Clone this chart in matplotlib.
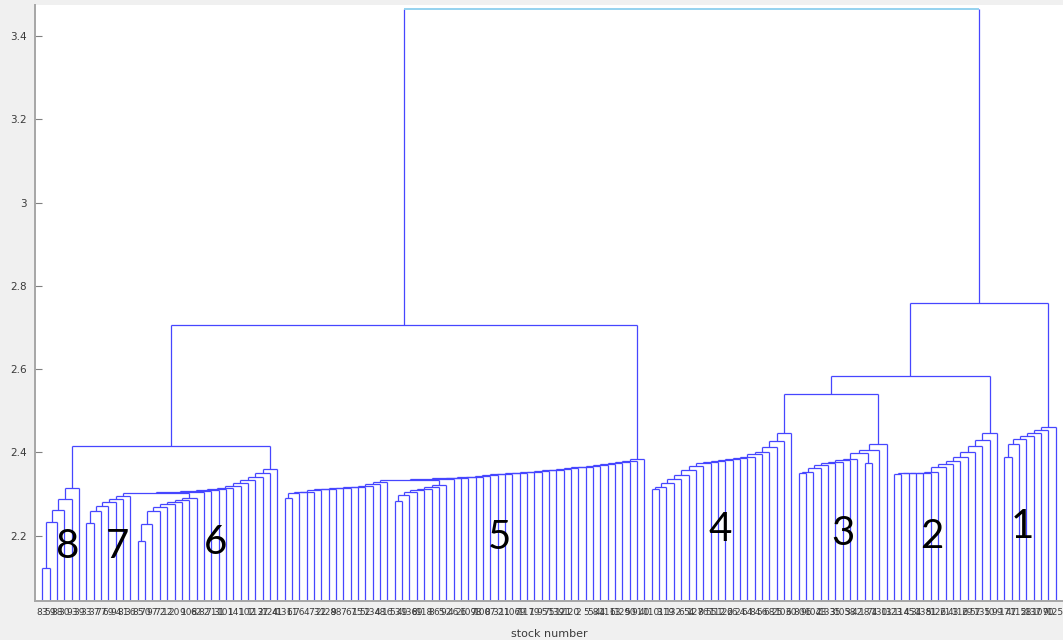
import matplotlib
matplotlib.use("Agg")
import matplotlib.pyplot as plt

# ---------------- data (merge heights) ----------------
c8_chain = [2.122, 2.232, 2.262, 2.288, 2.315]
c7_chain = [2.230, 2.259, 2.271, 2.281, 2.288, 2.295]
c6_left_chain = [2.188, 2.228, 2.259, 2.268, 2.275, 2.281, 2.286, 2.290]
c7_c6_join = 2.303
c6_right_tail = [2.306, 2.308, 2.310, 2.312, 2.315, 2.320, 2.326, 2.333, 2.340, 2.350, 2.360]
c8_c76_join = 2.415

c5_left_chain = [2.290, 2.302, 2.304, 2.306, 2.309, 2.311, 2.313, 2.314, 2.315, 2.316,
                 2.318, 2.320, 2.324, 2.328]
c5_right_chain = [2.284, 2.298, 2.305, 2.309, 2.313, 2.318, 2.322]
c5_join = 2.334
c5_tail = [2.336, 2.338, 2.339, 2.341, 2.342, 2.344, 2.345, 2.347, 2.348, 2.350,
           2.351, 2.352, 2.354, 2.355, 2.357, 2.358, 2.360, 2.362, 2.364, 2.366,
           2.368, 2.370, 2.372, 2.374, 2.376, 2.379, 2.384]
left_c5_join = 2.705

c4_chain = [2.312, 2.318, 2.326, 2.335, 2.345, 2.358, 2.368, 2.374, 2.377, 2.379,
            2.381, 2.383, 2.386, 2.390, 2.395, 2.401, 2.412, 2.428, 2.446]
c3_chain = [2.350, 2.352, 2.362, 2.370, 2.375, 2.378, 2.381, 2.385, (2.374, 2.398),
            2.405, 2.420]
c2_chain = [2.349, 2.350, 2.350, 2.351, 2.351, 2.352, 2.365, 2.372, 2.380, 2.390,
            2.400, 2.415, 2.430, 2.446]
c1_chain = [2.388, 2.420, 2.432, 2.440, 2.447, 2.455, 2.462]
c4_c3_join = 2.540
c43_c2_join = 2.583
c432_c1_join = 2.758
root_height = 3.465

leaf_labels = [83, 59, 88, 30, 93, 39, 33, 37, 77, 69, 94, 81, 36, 85, 70, 97, 72, 12, 20, 9,
               108, 62, 82, 71, 31, 101, 14, 1, 102, 113, 27, 124, 41,
               131, 61, 76, 4, 73, 22, 128, 98, 7, 67, 15, 52, 134, 48, 16, 53, 49, 136, 89,
               118, 8, 65, 92, 46, 26, 109, 78, 100, 87, 32, 11, 106, 79, 117, 19, 95, 75,
               139, 121, 120, 2, 5, 58, 44, 111, 63, 129, 50, 91, 40,
               110, 3, 119, 132, 6, 54, 127, 86, 55, 112, 122, 66, 24, 64, 84, 56, 68, 25,
               103, 60,
               80, 96, 104, 23, 133, 35, 105, 38, 42, 18, 74, 130, 13,
               123, 114, 45, 34, 138, 51, 126, 21, 43, 116, 29, 57, 135, 10, 99,
               17, 47, 115, 28, 137, 107, 90, 125]

cluster_names = ["8", "7", "6", "5", "4", "3", "2", "1"]
cluster_label_x = [4.4, 11.2, 24.6, 63.3, 93.3, 110.0, 122.2, 134.5]
cluster_label_y = [2.173, 2.173, 2.183, 2.195, 2.214, 2.206, 2.197, 2.223]

y_ticks = [2.2, 2.4, 2.6, 2.8, 3.0, 3.2, 3.4]
y_tick_labels = ["2.2", "2.4", "2.6", "2.8", "3", "3.2", "3.4"]

# ---------------- figure ----------------
LINE = "#4646ff"
ROOT_H = "#8ccfee"
fig = plt.figure(figsize=(10.63, 6.40), dpi=100, facecolor="#f0f0f0")
ax = fig.add_axes([35 / 1063, 39 / 640, 1028 / 1063, 596 / 640])
ax.set_facecolor("white")

state = {"next": 1}


def new_leaf():
    x = state["next"]
    state["next"] += 1
    return (x, 0.0)


def merge(a, b, h, hcolor=LINE):
    (xa, ha), (xb, hb) = a, b
    ax.plot([xa, xa], [ha, h], color=LINE, lw=0.9, solid_capstyle="butt")
    ax.plot([xb, xb], [hb, h], color=LINE, lw=0.9, solid_capstyle="butt")
    ax.plot([xa, xb], [h, h], color=hcolor, lw=1.3 if hcolor != LINE else 0.9,
            solid_capstyle="butt")
    return ((xa + xb) / 2.0, h)


def chain(items, start=None):
    node = start if start is not None else new_leaf()
    for it in items:
        if isinstance(it, tuple):
            a = new_leaf()
            b = new_leaf()
            p = merge(a, b, it[0])
            node = merge(node, p, it[1])
        else:
            node = merge(node, new_leaf(), it)
    return node


# left group
n8 = chain(c8_chain)
n7 = chain(c7_chain)
n6l = chain(c6_left_chain)
n76 = merge(n7, n6l, c7_c6_join)
n76 = chain(c6_right_tail, start=n76)
nleft = merge(n8, n76, c8_c76_join)

# cluster 5
n5l = chain(c5_left_chain)
n5r = chain(c5_right_chain)
n5 = merge(n5l, n5r, c5_join)
n5 = chain(c5_tail, start=n5)
nL = merge(nleft, n5, left_c5_join)

# right group
n4 = chain(c4_chain)
n3 = chain(c3_chain)
n43 = merge(n4, n3, c4_c3_join)
n2 = chain(c2_chain)
n432 = merge(n43, n2, c43_c2_join)
n1 = chain(c1_chain)
nR = merge(n432, n1, c432_c1_join)

merge(nL, nR, root_height, hcolor=ROOT_H)

n_leaves = state["next"] - 1

# cluster annotations
for name, x, y in zip(cluster_names, cluster_label_x, cluster_label_y):
    ax.text(x, y, name, fontsize=29, family="Lato", color="black",
            ha="center", va="center")

ax.set_xlim(0, n_leaves + 1)
ax.set_ylim(2.043, 3.475)

ax.set_xticks(range(1, n_leaves + 1))
ax.set_xticklabels([str(v) for v in leaf_labels[:n_leaves]], fontsize=6.5, color="#3a3a3a")
ax.set_yticks(y_ticks)
ax.set_yticklabels(y_tick_labels, fontsize=7.5, color="#3a3a3a")
ax.tick_params(axis="x", length=0, pad=5)
ax.tick_params(axis="y", direction="in", length=5, width=0.8, color="#808080", pad=6)

for s in ["top", "right"]:
    ax.spines[s].set_visible(False)
for s in ["left", "bottom"]:
    ax.spines[s].set_color("#a6a6a6")
    ax.spines[s].set_linewidth(1.4)

ax.set_xlabel("stock number", fontsize=8, color="#3a3a3a", labelpad=9)

fig.savefig("out.png", dpi=100, facecolor=fig.get_facecolor())
